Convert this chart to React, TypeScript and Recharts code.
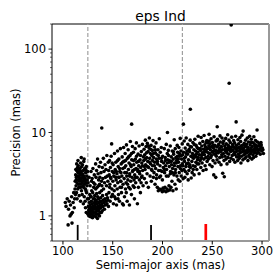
import React from 'react';
import { ScatterChart, Scatter, XAxis, YAxis, ReferenceLine } from 'recharts';

// [semi-major axis, precision], both in mas
const leftTail: [number, number][] = [
  [102.4, 1.45], [103.1, 1.3], [104.3, 1.6], [105.2, 0.78], [105.6, 1.2], [106.3, 1.5], [107.1, 1.0], [107.6, 1.35],
  [108.2, 1.05], [108.7, 1.7], [109.1, 0.82], [109.5, 1.1], [110.2, 1.45], [110.8, 1.9], [111.3, 1.25], [111.7, 1.6],
  [112.1, 2.1], [112.6, 1.8],
];

const innerClump: [number, number][] = [
  [112.3, 2.6], [112.8, 3.1], [113.2, 2.3], [113.5, 2.9], [113.9, 3.5], [114.1, 2.5], [114.4, 3.0], [114.7, 3.8],
  [114.9, 2.1], [115.2, 2.7], [115.5, 3.3], [115.8, 2.4], [115.4, 4.0], [116.1, 2.2], [116.4, 2.9], [116.7, 3.6],
  [116.9, 2.6], [117.2, 3.1], [117.5, 2.4], [117.8, 4.3], [117.4, 2.8], [118.1, 3.4], [118.6, 2.0], [118.3, 2.7],
  [118.8, 3.9], [119.2, 2.5], [119.5, 3.2], [119.8, 2.9], [119.3, 1.8], [120.1, 2.6], [120.4, 3.5], [120.7, 2.2],
  [120.9, 4.5], [121.2, 3.0], [121.6, 2.4], [121.4, 1.7], [121.8, 3.7], [122.1, 2.8], [122.5, 2.1], [122.8, 3.3],
  [122.3, 1.5], [123.2, 2.5], [123.5, 3.9], [123.7, 1.9], [123.9, 3.0], [124.1, 2.3], [124.4, 2.7], [124.6, 1.6],
  [124.8, 3.4], [113.6, 1.9], [116.3, 1.75], [119.6, 4.1], [115.1, 4.6], [118.4, 5.0], [121.3, 4.8], [114.2, 1.6],
  [117.7, 1.5], [120.5, 1.4], [122.6, 1.25], [123.4, 1.1], [112.9, 3.6], [113.8, 4.2], [115.7, 3.0], [116.6, 3.3],
  [117.1, 3.7], [118.9, 3.1], [119.9, 2.3], [120.3, 3.0], [121.9, 2.6], [122.9, 3.6], [113.3, 2.7], [117.9, 2.2],
  [114.6, 3.4], [120.8, 2.8], [123.1, 2.0],
];

const lowClump: [number, number][] = [
  [125.2, 1.05], [125.5, 1.3], [125.8, 1.6], [126.1, 1.0], [126.4, 1.2], [126.6, 1.45], [126.9, 1.8], [127.2, 1.1],
  [127.4, 1.35], [127.7, 0.98], [127.9, 1.7], [128.1, 1.25], [128.4, 1.05], [128.6, 1.5], [128.9, 2.0], [129.2, 1.15],
  [129.4, 1.4], [129.7, 0.95], [129.9, 1.9], [130.2, 1.3], [130.4, 1.1], [130.7, 1.6], [130.9, 2.2], [131.1, 1.2],
  [131.4, 1.0], [131.6, 1.45], [131.9, 1.75], [132.2, 1.35], [132.4, 1.1], [132.7, 1.55], [132.9, 2.1], [133.1, 1.25],
  [133.4, 0.97], [133.6, 1.5], [133.9, 1.85], [134.2, 1.15], [134.4, 1.4], [134.7, 0.93], [134.9, 1.7], [135.1, 1.3],
  [135.4, 1.05], [135.7, 1.6], [135.9, 2.3], [136.2, 1.2], [136.4, 1.45], [136.7, 1.0], [136.9, 1.9], [137.2, 1.35],
  [137.5, 1.1], [137.8, 1.65], [138.1, 1.25], [138.4, 1.5], [138.8, 2.0], [139.2, 1.4], [139.5, 1.15], [139.8, 1.75],
  [140.2, 1.3], [140.5, 1.55], [140.8, 2.1], [141.3, 1.45], [141.7, 1.2], [142.2, 1.6], [142.7, 1.35], [143.3, 1.5],
  [143.8, 1.8], [144.2, 1.4], [144.7, 1.65], [145.2, 1.55], [145.7, 1.3],
  [126.3, 1.1], [127.6, 1.25], [128.8, 1.15], [129.6, 1.25], [130.6, 1.0], [131.3, 1.3], [132.6, 1.2], [133.7, 1.05],
  [134.6, 1.25], [135.6, 1.15], [136.5, 1.3], [137.3, 1.5], [138.6, 1.1], [139.7, 1.3], [125.9, 1.15], [131.8, 1.6],
  [133.3, 1.4], [128.3, 1.7],
  [125.3, 2.5], [126.2, 2.9], [127.3, 2.3], [128.2, 3.4], [128.7, 2.6], [129.3, 2.8], [130.1, 3.7], [130.8, 2.5],
  [131.5, 3.1], [132.1, 2.4], [132.8, 4.2], [133.2, 2.9], [133.8, 3.5], [134.3, 2.2], [134.8, 4.8], [135.3, 3.2],
  [135.8, 2.7], [136.3, 3.9], [136.8, 2.4], [137.1, 2.9], [137.7, 4.4], [138.2, 3.3], [138.7, 2.6], [139.1, 2.3],
  [139.6, 3.8], [140.1, 2.8], [140.6, 4.9], [141.2, 3.4], [141.8, 2.5], [142.3, 4.1], [142.8, 2.9], [143.2, 3.6],
  [143.7, 2.3], [144.1, 5.3], [144.6, 3.0], [145.1, 2.6], [145.5, 4.4], [145.9, 3.5],
];

const middleBand: [number, number][] = [
  [146.2, 1.9], [146.5, 3.1], [146.8, 4.6], [147.1, 2.4], [147.4, 1.5], [147.7, 3.8], [148.1, 2.8], [148.4, 5.2],
  [148.6, 1.7], [148.9, 7.3], [149.2, 2.1], [149.6, 3.4], [150.1, 2.6], [150.4, 4.1], [150.7, 1.4], [151.1, 3.0],
  [151.5, 2.0], [151.8, 5.6], [152.2, 2.3], [152.5, 3.6], [152.8, 1.6], [153.1, 4.4], [153.4, 2.7], [153.8, 1.35],
  [154.2, 3.2], [154.5, 2.1], [154.8, 6.0], [155.1, 2.5], [155.5, 3.9], [155.8, 1.8], [156.2, 4.8], [156.5, 2.9],
  [156.8, 1.5], [157.1, 3.4], [157.4, 2.2], [157.7, 6.4], [158.1, 2.6], [158.5, 4.2], [158.8, 1.9], [159.2, 3.0],
  [159.5, 5.1], [159.8, 1.4], [160.1, 3.7], [160.4, 2.4], [160.7, 1.35], [160.9, 6.6],
  [146.9, 2.2], [147.9, 2.9], [149.4, 4.3], [150.9, 3.3], [152.9, 2.9], [153.6, 3.4], [154.9, 4.6], [155.9, 2.9],
  [156.9, 3.7], [157.9, 2.6], [158.3, 3.3], [159.9, 4.4], [149.8, 1.8], [151.9, 1.7], [155.3, 1.6], [158.9, 2.2],
  [161.2, 4.5], [161.5, 2.8], [161.8, 1.7], [162.1, 3.3], [162.5, 5.6], [162.8, 2.1], [163.1, 4.0], [163.4, 2.5],
  [163.8, 7.1], [164.1, 3.0], [164.5, 1.5], [164.8, 4.9], [165.2, 2.7], [165.5, 6.2], [165.8, 3.6], [166.1, 2.2],
  [166.4, 4.3], [166.8, 1.35], [167.1, 3.2], [167.4, 5.3], [167.7, 7.8], [168.1, 2.6], [168.5, 3.9], [168.8, 1.8],
  [169.1, 4.7], [169.4, 2.9], [169.8, 6.8], [170.2, 3.5], [170.5, 2.3], [170.8, 5.8], [171.1, 4.1], [171.4, 2.7],
  [171.8, 1.6], [172.1, 3.1], [172.5, 6.4], [172.8, 4.8], [173.1, 2.5], [173.5, 3.7], [173.8, 7.5], [174.1, 4.4],
  [174.5, 2.9], [174.8, 1.4], [175.2, 3.4], [175.5, 5.5], [175.8, 2.2], [176.1, 4.0], [176.5, 6.9], [176.8, 2.7],
  [177.1, 3.2], [177.5, 4.7], [177.8, 1.9], [178.1, 3.8], [178.5, 2.5], [178.8, 5.9], [179.2, 4.3], [179.5, 3.0],
  [179.8, 7.2], [180.1, 3.5], [180.5, 2.3], [180.8, 5.1],
  [161.9, 3.8], [162.9, 4.6], [163.9, 3.3], [164.9, 2.4], [165.9, 5.1], [166.9, 3.0], [167.9, 4.1], [168.9, 5.6],
  [169.9, 3.4], [170.9, 4.6], [171.9, 3.6], [172.9, 2.9], [173.9, 5.2], [174.9, 3.6], [175.9, 4.5], [176.9, 3.4],
  [177.9, 5.3], [178.9, 2.9], [179.9, 4.0], [163.6, 1.9], [167.6, 2.1], [171.6, 2.2],
  [181.2, 4.6], [181.5, 6.3], [181.8, 2.8], [182.1, 5.4], [182.5, 3.6], [182.8, 8.1], [183.1, 4.1], [183.5, 6.8],
  [183.8, 2.5], [184.1, 5.0], [184.5, 3.2], [184.8, 7.4], [185.2, 4.5], [185.5, 5.9], [185.8, 2.2], [186.1, 3.8],
  [186.5, 6.5], [186.8, 8.6], [187.1, 4.9], [187.5, 3.0], [187.8, 5.6], [188.1, 4.2], [188.5, 7.0], [188.8, 2.6],
  [189.2, 5.3], [189.5, 3.5], [189.8, 6.1], [190.1, 4.0], [190.5, 8.0], [190.8, 2.9], [191.1, 5.0], [191.5, 3.3],
  [191.8, 6.7], [192.1, 4.4], [192.5, 2.4], [192.8, 5.7], [193.1, 3.7], [193.5, 7.5], [193.8, 4.8], [194.1, 3.1],
  [194.5, 5.4], [194.8, 2.2], [195.1, 4.2], [195.5, 6.2], [195.8, 2.0], [196.1, 3.5], [196.5, 4.9], [196.8, 8.4],
  [197.1, 2.1], [197.5, 4.0], [197.8, 5.8], [198.1, 3.0], [198.5, 2.05], [198.8, 6.6], [199.1, 4.5], [199.5, 3.4],
  [199.8, 1.95], [200.2, 5.2], [200.5, 2.15], [200.8, 3.8],
  [181.9, 3.9], [182.9, 4.8], [183.9, 5.7], [184.9, 3.9], [185.9, 6.9], [186.9, 4.4], [187.9, 6.3], [188.9, 3.6],
  [189.9, 4.6], [190.9, 5.6], [191.9, 4.0], [192.9, 6.2], [193.9, 2.8], [194.9, 4.5], [195.9, 5.3], [196.9, 2.9],
  [197.9, 3.5], [198.9, 4.9], [199.9, 2.7],
  [201.2, 4.3], [201.5, 2.0], [201.8, 6.4], [202.1, 3.3], [202.5, 2.2], [202.8, 5.0], [203.1, 4.0], [203.5, 1.95],
  [203.8, 7.2], [204.1, 3.6], [204.5, 2.1], [204.8, 5.6], [205.2, 4.7], [205.5, 2.0], [205.8, 3.0], [206.1, 5.3],
  [206.5, 2.3], [206.8, 3.9], [207.1, 4.4], [207.5, 2.05], [207.8, 6.9], [208.1, 3.4], [208.5, 2.2], [208.8, 5.1],
  [209.2, 4.1], [209.5, 2.6], [209.8, 6.0], [210.1, 3.7], [210.5, 2.0], [210.8, 4.8], [211.2, 5.5], [211.5, 3.1],
  [211.8, 8.2], [212.1, 4.3], [212.5, 2.4], [212.8, 6.4], [213.1, 3.6], [213.5, 5.0], [213.8, 2.1], [214.1, 4.6],
  [214.5, 3.0], [214.8, 7.0], [215.2, 5.8], [215.5, 3.9], [215.8, 2.7], [216.1, 4.4], [216.5, 6.6], [216.8, 3.3],
  [217.1, 5.2], [217.5, 2.6], [217.8, 8.5], [218.1, 4.0], [218.5, 6.0], [218.8, 3.0], [219.2, 4.8], [219.5, 3.5],
  [219.8, 7.3], [220.2, 5.4], [220.5, 4.0], [220.8, 2.8],
  [201.9, 3.6], [202.9, 4.6], [203.9, 3.0], [204.9, 4.3], [205.9, 6.1], [206.9, 4.6], [207.9, 3.2], [208.9, 4.5],
  [209.9, 3.3], [210.9, 5.9], [211.9, 4.0], [212.9, 3.3], [213.9, 4.3], [214.9, 5.2], [215.9, 4.8], [216.9, 5.6],
  [217.9, 3.7], [218.9, 5.3], [219.9, 4.2],
];

const outerBand: [number, number][] = [
  [221.2, 5.8], [221.5, 3.6], [221.8, 7.9], [222.1, 4.5], [222.5, 2.9], [222.8, 6.5], [223.2, 5.1], [223.5, 3.9],
  [223.8, 8.6], [224.1, 4.2], [224.5, 6.0], [224.8, 3.2], [225.2, 5.5], [225.5, 7.2], [225.8, 2.7], [226.1, 4.7],
  [226.5, 3.5], [226.8, 6.3], [227.2, 5.9], [227.5, 4.1], [227.8, 8.1], [228.1, 3.8], [228.5, 5.2], [228.8, 2.85],
  [229.2, 6.7], [229.5, 4.5], [229.8, 3.3], [230.1, 5.6], [230.5, 7.6], [230.8, 4.0], [231.2, 4.9], [231.5, 6.2],
  [231.8, 3.1], [232.1, 5.3], [232.5, 8.3], [232.8, 3.9], [233.2, 6.0], [233.5, 4.4], [233.8, 7.0], [234.1, 5.1],
  [234.5, 3.6], [234.8, 6.6], [235.2, 4.7], [235.5, 5.8], [235.8, 9.0], [236.1, 6.4], [236.5, 4.2], [236.8, 3.2],
  [237.2, 5.4], [237.5, 7.4], [237.8, 4.6], [238.1, 6.1], [238.5, 3.8], [238.8, 8.7], [239.2, 5.0], [239.5, 6.9],
  [239.8, 4.3], [240.1, 5.7], [240.5, 7.8], [240.8, 3.5],
  [221.9, 4.9], [223.9, 5.6], [225.9, 4.3], [227.9, 6.8], [229.9, 5.1], [231.9, 7.2], [233.9, 5.5], [235.9, 5.0],
  [237.9, 6.4], [239.9, 5.4], [222.9, 3.4], [226.9, 3.9], [230.9, 3.6], [234.9, 4.2], [238.9, 4.9],
  [241.2, 6.3], [241.5, 4.8], [241.8, 9.2], [242.1, 5.4], [242.5, 7.1], [242.8, 4.0], [243.2, 6.7], [243.5, 5.0],
  [243.8, 3.6], [244.1, 5.9], [244.5, 8.0], [244.8, 4.5], [245.2, 6.4], [245.5, 7.5], [245.8, 5.2], [246.1, 4.8],
  [246.5, 6.9], [246.8, 9.5], [247.2, 5.6], [247.5, 4.1], [247.8, 7.3], [248.1, 6.2], [248.5, 5.0], [248.8, 8.4],
  [249.2, 5.3], [249.5, 6.8], [249.8, 3.9], [250.1, 7.6], [250.5, 5.9], [250.8, 4.6], [251.2, 6.5], [251.5, 3.1],
  [251.8, 8.9], [252.1, 5.5], [252.5, 7.0], [252.8, 4.3], [253.2, 6.1], [253.5, 2.9], [253.8, 7.9], [254.1, 5.2],
  [254.5, 6.7], [254.8, 4.7], [255.2, 8.3], [255.5, 6.0], [256.1, 5.7], [256.5, 7.2], [256.8, 4.4], [257.2, 6.4],
  [257.5, 5.0], [257.8, 9.1], [258.1, 7.7], [258.5, 5.9], [258.8, 4.1], [259.2, 6.8], [259.5, 5.4], [259.8, 8.6],
  [260.2, 6.2], [260.5, 3.25], [260.8, 7.4],
  [241.9, 5.8], [243.9, 7.6], [245.9, 5.7], [247.9, 6.6], [249.9, 5.8], [251.9, 6.0], [253.9, 5.6], [255.9, 7.0],
  [257.9, 6.0], [259.9, 5.1], [242.9, 6.2], [246.9, 7.9], [250.9, 7.0], [254.9, 8.0], [258.9, 6.7],
  [261.2, 5.6], [261.5, 7.9], [261.8, 4.6], [262.1, 2.95], [262.5, 6.9], [262.8, 5.2], [263.2, 6.0], [263.5, 8.5],
  [263.8, 4.8], [264.1, 7.3], [264.5, 5.7], [264.8, 4.2], [265.2, 6.5], [265.5, 9.4], [265.8, 5.0], [266.1, 7.0],
  [266.5, 5.5], [266.8, 8.1], [267.2, 6.2], [267.5, 4.5], [268.1, 7.6], [268.5, 5.9], [268.8, 4.9], [269.2, 6.7],
  [269.5, 8.8], [270.1, 5.3], [270.5, 7.2], [270.8, 6.1], [271.2, 4.7], [271.5, 8.0], [271.8, 5.6], [272.1, 6.6],
  [272.5, 7.5], [272.8, 4.4], [273.2, 5.8], [273.5, 9.0], [273.8, 6.3], [274.2, 7.0], [274.5, 5.1], [275.1, 6.0],
  [275.5, 4.6], [275.8, 8.2], [276.2, 5.5], [276.5, 7.3], [276.8, 6.6], [277.1, 4.9], [277.5, 6.1], [277.8, 8.7],
  [278.2, 5.7], [278.5, 7.8], [278.8, 4.3], [279.1, 6.4], [279.5, 5.2], [279.8, 9.3], [280.2, 7.0], [280.5, 5.9],
  [280.8, 4.7], [281.5, 6.5], [281.8, 5.4], [282.1, 7.4], [282.5, 6.0], [282.8, 4.9], [283.2, 5.6], [283.5, 8.1],
  [283.8, 6.8], [284.1, 5.1], [284.5, 7.2], [284.8, 6.2], [285.2, 8.6], [285.5, 5.8], [285.8, 4.6], [286.1, 6.6],
  [286.5, 7.7], [286.8, 5.3], [287.2, 6.1], [287.5, 9.0], [287.8, 5.0], [288.1, 7.1], [288.5, 5.6], [288.8, 6.4],
  [289.2, 8.3], [289.5, 5.9], [289.8, 4.8], [290.1, 6.8], [290.5, 7.6], [290.8, 5.4], [291.2, 6.2], [291.5, 5.0],
  [291.8, 8.9], [292.1, 7.3], [292.5, 5.7], [292.8, 6.5], [293.2, 6.0], [293.5, 8.0], [293.8, 5.2], [294.1, 7.0],
  [294.5, 6.4], [294.8, 5.6], [295.4, 7.7], [295.8, 6.1], [296.2, 5.8], [296.7, 6.9], [297.2, 7.4], [297.7, 6.3],
  [298.2, 5.5], [298.7, 6.7], [299.2, 7.1], [299.7, 6.0], [300.3, 6.5], [300.9, 6.2], [301.4, 5.6],
  [262.9, 6.4], [264.9, 6.1], [266.9, 6.6], [268.9, 6.4], [270.9, 6.8], [272.9, 5.4], [274.9, 6.5], [276.9, 5.2],
  [278.9, 6.9], [280.9, 6.3], [282.9, 7.0], [284.9, 5.7], [286.9, 6.0], [288.9, 7.6], [290.9, 6.0], [292.9, 7.0],
  [294.9, 6.8], [296.9, 6.2], [298.9, 7.6],
];

const outliers: [number, number][] = [
  [139, 11.3], [169, 12.6], [205, 10.0], [221, 12.6], [228, 19], [255, 11.7], [267, 39], [269, 195],
  [274, 13.4], [281, 10.4], [295, 10.7],
];

const dashedAt = [125, 220];
const markerXs = [114.8, 188.5, 243.5];
const markerTops = [0.78, 0.78, 0.8];
const markerColors = ['#000000', '#000000', '#ff0000'];

const xTicks = [100, 150, 200, 250, 300];
const yMajor = [1, 10, 100];
const yMinor = [0.5, 0.6, 0.7, 0.8, 0.9, 2, 3, 4, 5, 6, 7, 8, 9, 20, 30, 40, 50, 60, 70, 80, 90, 200];

const X_DOMAIN: [number, number] = [89, 307];
const Y_DOMAIN: [number, number] = [0.5, 200];
const FONT = '"DejaVu Sans", sans-serif';

const points = [...leftTail, ...innerClump, ...lowClump, ...middleBand, ...outerBand, ...outliers].map(
  ([x, y]) => ({ x, y })
);

// log axis tick: long line + label for decades, short line for the minor ones
const YTick = (props: any) => {
  const { x, y, payload } = props;
  const major = yMajor.includes(payload.value);
  const ax = x + 6;
  return (
    <g>
      <line x1={ax - (major ? 3.5 : 2)} x2={ax} y1={y} y2={y} stroke="#000" strokeWidth={major ? 0.9 : 0.6} />
      {major && (
        <text x={x} y={y} dy="0.36em" textAnchor="end" fontSize={11.5} fontFamily={FONT} fill="#000">
          {payload.value}
        </text>
      )}
    </g>
  );
};

const Dot = (props: any) => <circle cx={props.cx} cy={props.cy} r={1.8} fill="#000" />;

export default function App() {
  return (
    <div style={{ position: 'absolute', left: 0, top: 0, width: 277, height: 277, background: '#fff', fontFamily: FONT }}>
      <div
        style={{
          position: 'absolute',
          left: 52,
          top: 10,
          width: 217,
          textAlign: 'center',
          fontSize: 13.8,
          lineHeight: 1,
          color: '#000',
        }}
      >
        eps Ind
      </div>
      <ScatterChart width={277} height={277} margin={{ top: 24, right: 8, bottom: 0, left: 0 }}>
        <XAxis
          type="number"
          dataKey="x"
          domain={X_DOMAIN}
          allowDataOverflow
          ticks={xTicks}
          interval={0}
          tickSize={3.5}
          tickMargin={2}
          height={36}
          axisLine={{ stroke: '#999', strokeWidth: 2 }}
          tickLine={{ stroke: '#000' }}
          tick={{ fill: '#000', fontSize: 11.5, fontFamily: FONT }}
          label={{ value: 'Semi-major axis (mas)', position: 'insideBottom', offset: 8.5, fill: '#000', fontSize: 11.5, fontFamily: FONT }}
        />
        <YAxis
          type="number"
          dataKey="y"
          scale="log"
          domain={Y_DOMAIN}
          allowDataOverflow
          ticks={[...yMinor, ...yMajor]}
          interval={0}
          tickSize={3.5}
          tickMargin={2.5}
          width={52}
          axisLine={{ stroke: '#000' }}
          tickLine={false}
          tick={<YTick />}
          label={{
            value: 'Precision (mas)',
            angle: -90,
            position: 'insideLeft',
            offset: 15.5,
            fill: '#000',
            fontSize: 11.5,
            fontFamily: FONT,
            style: { textAnchor: 'middle' },
          }}
        />
        <ReferenceLine y={Y_DOMAIN[1]} stroke="#000" />
        <ReferenceLine x={X_DOMAIN[1]} stroke="#999" strokeWidth={2} />
        {dashedAt.map((v) => (
          <ReferenceLine key={`d-${v}`} x={v} stroke="#a0a0a0" strokeWidth={1.2} strokeDasharray="4 2" />
        ))}
        <Scatter data={points} shape={<Dot />} isAnimationActive={false} />
        {markerXs.map((v, i) => (
          <ReferenceLine
            key={`m-${v}`}
            segment={[
              { x: v, y: Y_DOMAIN[0] },
              { x: v, y: markerTops[i] },
            ]}
            stroke={markerColors[i]}
            strokeWidth={i === 2 ? 2.7 : 1.8}
          />
        ))}
      </ScatterChart>
    </div>
  );
}
